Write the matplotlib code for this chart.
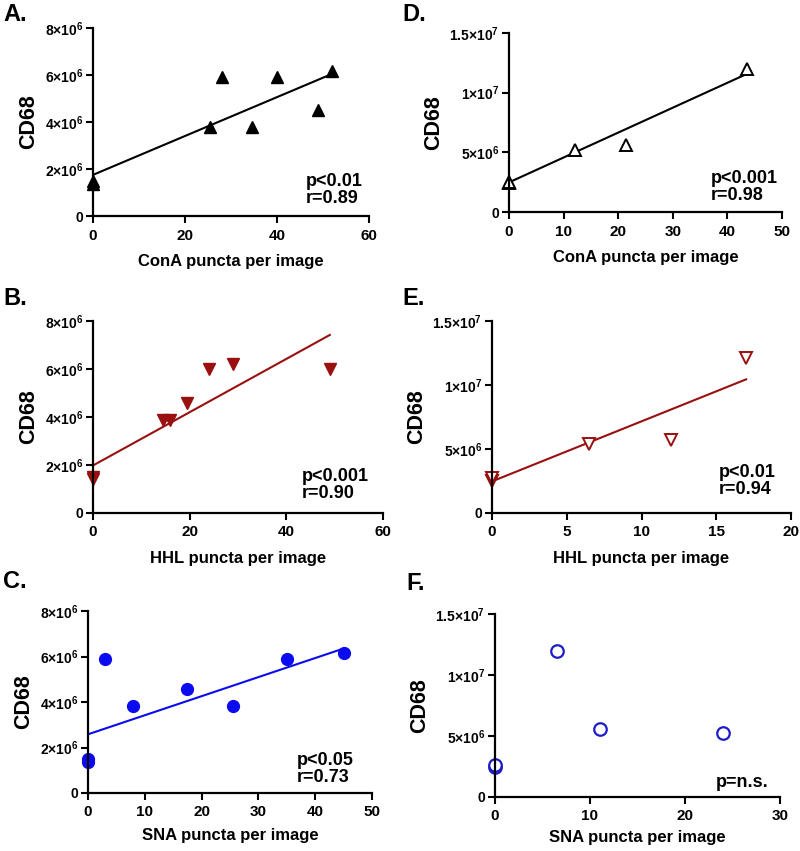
import numpy as np
import matplotlib
matplotlib.use('Agg')
import matplotlib.pyplot as plt

plt.rcParams['font.family'] = ['Liberation Sans', 'DejaVu Sans']
plt.rcParams['font.weight'] = 'bold'
plt.rcParams['mathtext.fontset'] = 'custom'
plt.rcParams['mathtext.rm'] = 'Liberation Sans:bold'
plt.rcParams['mathtext.bf'] = 'Liberation Sans:bold'
plt.rcParams['mathtext.default'] = 'bf'

# data (CD68 in units of 1e6)
conA_x = [0, 0, 25.5, 28, 34.5, 40, 49, 52]
conA_y = [1.35, 1.5, 3.8, 5.9, 3.8, 5.9, 4.5, 6.15]
hhl_x = [0, 0, 14.5, 16, 19.5, 24, 29, 49]
hhl_y = [1.4, 1.52, 3.88, 3.88, 4.6, 6.0, 6.2, 6.0]
sna_x = [0, 0, 3, 8, 17.5, 25.5, 35, 45]
sna_y = [1.36, 1.49, 5.9, 3.82, 4.55, 3.82, 5.9, 6.17]

conA2_x = [0, 0, 12, 21.5, 43.5]
conA2_y = [2.4, 2.55, 5.2, 5.6, 12.0]
hhl2_x = [0, 0, 6.5, 12, 17]
hhl2_y = [2.5, 2.7, 5.4, 5.7, 12.1]
sna2_x = [0, 0, 6.5, 11, 24]
sna2_y = [2.45, 2.6, 12.0, 5.6, 5.26]

# regression lines: (intercept, slope) in 1e6 units
fit_A = (1.75, 0.0827)
fit_B = (1.98, 0.111)
fit_C = (2.58, 0.0838)
fit_D = (2.48, 0.2087)
fit_E = (2.47, 0.469)

stats_A = 'p<0.01\nr=0.89'
stats_B = 'p<0.001\nr=0.90'
stats_C = 'p<0.05\nr=0.73'
stats_D = 'p<0.001\nr=0.98'
stats_E = 'p<0.01\nr=0.94'
stats_F = 'p=n.s.'

small_ticks = [0, 2, 4, 6, 8]
small_labels = ['0', '2×10$^{6}$', '4×10$^{6}$', '6×10$^{6}$', '8×10$^{6}$']
big_ticks = [0, 5, 10, 15]
big_labels = ['0', '5×10$^{6}$', '1×10$^{7}$', '1.5×10$^{7}$']

DARKRED = '#9a1010'
BLUE = '#0b0bf0'
BLUE2 = '#1c1cc8'

W, H = 800, 851
fig = plt.figure(figsize=(W / 100, H / 100), dpi=100)


def make_ax(x0, ytop, x1, ybot):
    return fig.add_axes([x0 / W, 1 - ybot / H, (x1 - x0) / W, (ybot - ytop) / H])


def style(ax, xmax, xstep, yticks, ylabels, ymax, xlabel, lpad=8):
    ax.set_xlim(0, xmax)
    ax.set_ylim(0, ymax)
    ax.set_xticks(np.arange(0, xmax + 0.1, xstep))
    ax.set_yticks(yticks)
    ax.set_yticklabels(ylabels, fontsize=10)
    ax.tick_params(axis='x', labelsize=11, width=1.5, length=5, pad=4)
    ax.tick_params(axis='y', width=1.5, length=5, pad=2)
    for s in ['top', 'right']:
        ax.spines[s].set_visible(False)
    for s in ['left', 'bottom']:
        ax.spines[s].set_linewidth(1.6)
    for lab in ax.get_xticklabels() + ax.get_yticklabels():
        lab.set_fontweight('bold')
    ax.set_xlabel(xlabel, fontsize=12, fontweight='bold', labelpad=lpad)
    ax.set_ylabel('CD68', fontsize=15.5, fontweight='bold', labelpad=4)


def fit_line(ax, xs, fit, color):
    xx = np.array([min(xs), max(xs)])
    ax.plot(xx, fit[0] + fit[1] * xx, color=color, lw=1.5)


def stats(ax, x, y, s):
    ax.text(x, y, s, transform=ax.transAxes, fontsize=13, fontweight='bold', linespacing=1.0)


# A
ax = make_ax(93, 28, 369, 216)
fit_line(ax, conA_x, fit_A, 'black')
ax.plot(conA_x, conA_y, '^', color='black', ms=9, ls='none', clip_on=False)
style(ax, 60, 20, small_ticks, small_labels, 8, 'ConA puncta per image')
stats(ax, 0.77, 0.07, stats_A)

# B
ax = make_ax(93, 321, 383, 513)
fit_line(ax, hhl_x, fit_B, DARKRED)
ax.plot(hhl_x, hhl_y, 'v', color=DARKRED, ms=9, ls='none', clip_on=False)
style(ax, 60, 20, small_ticks, small_labels, 8, 'HHL puncta per image')
stats(ax, 0.72, 0.08, stats_B)

# C
ax = make_ax(88, 611, 372, 793)
fit_line(ax, sna_x, fit_C, BLUE)
ax.plot(sna_x, sna_y, 'o', color=BLUE, ms=8.5, ls='none', clip_on=False)
style(ax, 50, 10, small_ticks, small_labels, 8, 'SNA puncta per image', lpad=6)
stats(ax, 0.735, 0.06, stats_C)

# D
ax = make_ax(509, 33, 782, 212)
fit_line(ax, conA2_x, fit_D, 'black')
ax.plot(conA2_x, conA2_y, '^', mfc='white', mec='black', mew=1.4, ms=9, ls='none', clip_on=False)
style(ax, 50, 10, big_ticks, big_labels, 15, 'ConA puncta per image')
stats(ax, 0.74, 0.067, stats_D)

# E
ax = make_ax(492, 321, 791, 513)
fit_line(ax, hhl2_x, fit_E, DARKRED)
ax.plot(hhl2_x, hhl2_y, 'v', mfc='white', mec=DARKRED, mew=1.4, ms=9, ls='none', clip_on=False)
style(ax, 20, 5, big_ticks, big_labels, 15, 'HHL puncta per image')
stats(ax, 0.76, 0.10, stats_E)

# F
ax = make_ax(495, 614, 780, 797)
ax.plot(sna2_x, sna2_y, 'o', mfc='white', mec=BLUE2, mew=1.6, ms=9, ls='none', clip_on=False)
style(ax, 30, 10, big_ticks, big_labels, 15, 'SNA puncta per image', lpad=5)
stats(ax, 0.775, 0.054, stats_F)

# panel letters
for lab, x, y in [('A.', 3, 3), ('D.', 402, 3), ('B.', 3, 287), ('E.', 402, 287),
                  ('C.', 3, 570), ('F.', 406, 572)]:
    fig.text(x / W, 1 - y / H, lab, fontsize=17, fontweight='bold', va='top', ha='left')

fig.savefig('out.png', dpi=100)
